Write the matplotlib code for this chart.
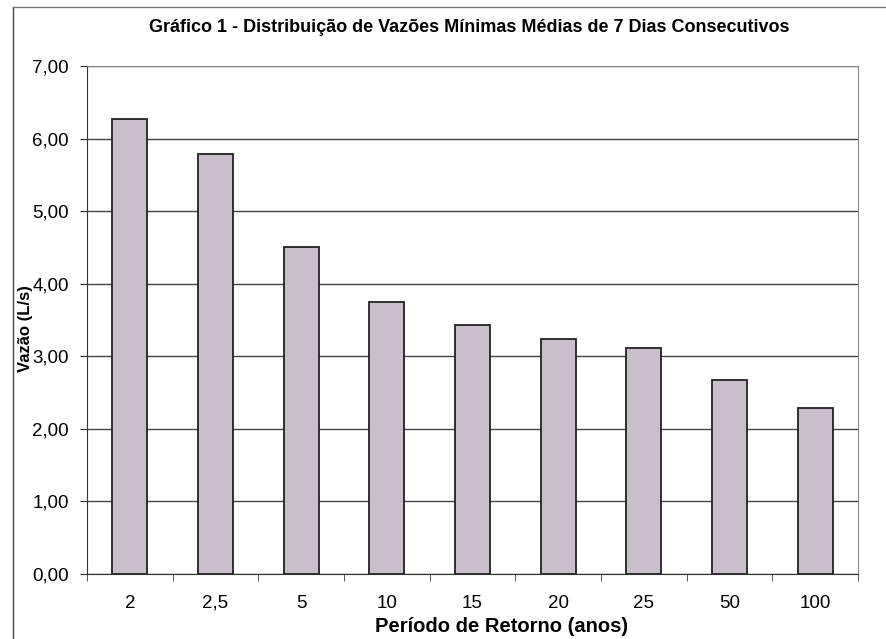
import matplotlib.pyplot as plt
from matplotlib.lines import Line2D

plt.rcParams['font.family'] = ['Liberation Sans', 'DejaVu Sans']

periodos = ["2", "2,5", "5", "10", "15", "20", "25", "50", "100"]
vazoes = [6.27, 5.79, 4.51, 3.75, 3.43, 3.24, 3.11, 2.67, 2.29]
y_ticks = [0, 1, 2, 3, 4, 5, 6, 7]
y_labels = ["0,00", "1,00", "2,00", "3,00", "4,00", "5,00", "6,00", "7,00"]

W, H = 887, 639
fig = plt.figure(figsize=(W / 100, H / 100), dpi=100)
fig.patch.set_facecolor("white")

# moldura do grafico (so a borda esquerda e o topo aparecem no recorte)
fig.lines.append(Line2D([13 / W, 13 / W], [0, 1 - 7 / H], transform=fig.transFigure,
                        color="#444444", linewidth=1.0))
fig.lines.append(Line2D([13 / W, 1], [1 - 7 / H, 1 - 7 / H], transform=fig.transFigure,
                        color="#777777", linewidth=1.0))

ax = fig.add_axes([87 / W, 1 - 574 / H, 771 / W, 508 / H])
x = list(range(len(periodos)))
ax.bar(x, vazoes, width=0.41, color="#c9bfcb", edgecolor="#222222", linewidth=1.3, zorder=3)

ax.set_xlim(-0.5, len(periodos) - 0.5)
ax.set_ylim(0, 7)
ax.set_yticks(y_ticks)
ax.set_yticklabels(y_labels, fontsize=13.5)
ax.set_xticks(x)
ax.set_xticks([i + 0.5 for i in range(-1, len(periodos))], minor=True)
ax.tick_params(axis="x", which="major", length=0, labelbottom=False)
ax.tick_params(axis="x", which="minor", length=5, direction="out", color="#333333")
ax.tick_params(axis="y", length=5, direction="out", color="#333333", pad=8)

# rotulos do eixo x alinhados pela linha de base
for xi, p in zip(x, periodos):
    ax.text(xi, -34 / 508 * 7, p, fontsize=13.5, ha="center", va="baseline")

ax.grid(axis="y", color="#444444", linewidth=1.0, zorder=0)
for side in ["top", "right"]:
    ax.spines[side].set_color("#888888")
    ax.spines[side].set_linewidth(0.8)
ax.spines["left"].set_color("#333333")
ax.spines["bottom"].set_color("#333333")

fig.text(26 / W, 1 - 329 / H, "Vazão (L/s)", rotation=90, fontsize=12, fontweight="bold",
         ha="center", va="center")
fig.text(502 / W, 1 - 632 / H, "Período de Retorno (anos)", fontsize=14.5, fontweight="bold",
         ha="center", va="baseline")
fig.text(469 / W, 1 - 32 / H,
         "Gráfico 1 - Distribuição de Vazões Mínimas Médias de 7 Dias Consecutivos",
         fontsize=13, fontweight="bold", ha="center", va="baseline")

fig.savefig("out.png", dpi=100)
